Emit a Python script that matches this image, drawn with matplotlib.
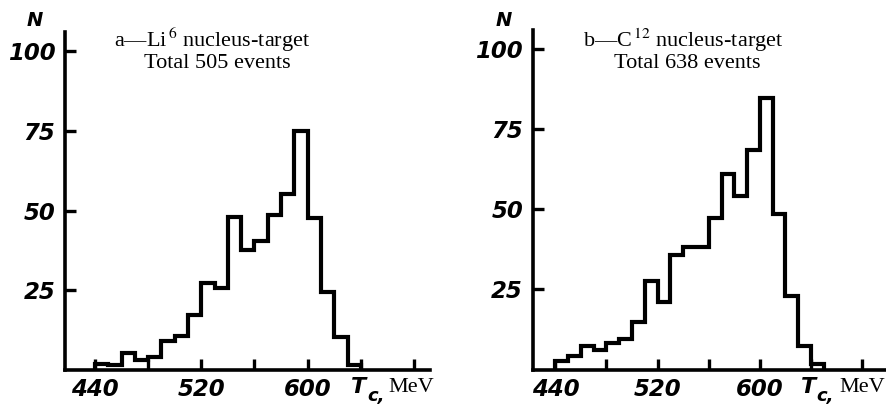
import matplotlib
matplotlib.use('Agg')
import matplotlib.pyplot as plt

# bin edges (MeV) and counts
edges_li = [440, 450, 460, 470, 480, 490, 500, 510, 520, 530, 540,
            550, 560, 570, 580, 590, 600, 610, 620, 630, 640]
counts_li = [2, 1.5, 5.4, 3.2, 4.1, 9.2, 10.8, 17.4, 27.4, 25.8, 47.9,
             37.7, 40.3, 48.7, 55.3, 75, 47.7, 24.4, 10.2, 1.5]

edges_c = [440, 450, 460, 470, 480, 490, 500, 510, 520, 530, 540,
           550, 560, 570, 580, 590, 600, 610, 620, 630, 640, 650]
counts_c = [2.8, 4.1, 7.2, 6.0, 8.3, 9.4, 14.9, 27.5, 21.2, 35.6, 38.3,
            38.3, 47.2, 61.1, 54.3, 68.6, 84.7, 48.7, 23.0, 7.4, 1.6]

yticks = [25, 50, 75, 100]
xticks = [440, 480, 520, 560, 600, 640, 680]
xticklabels = ['440', '', '520', '', '600', '', '']

W, H = 886, 404
fig = plt.figure(figsize=(W / 100, H / 100), dpi=100)


def px(x, y):
    return x / W, 1 - y / H


tick_font = dict(family='DejaVu Sans', weight='bold', style='italic', size=16.5)
serif = ['Liberation Serif', 'DejaVu Serif']
plt.rcParams['mathtext.fontset'] = 'stix'


def setup(ax, xlim):
    ax.set_xlim(*xlim)
    ax.set_ylim(0, 106)
    for s in ('top', 'right'):
        ax.spines[s].set_visible(False)
    for s in ('left', 'bottom'):
        ax.spines[s].set_linewidth(2.6)
    ax.set_yticks(yticks)
    ax.set_yticklabels([str(v) for v in yticks], fontdict=tick_font)
    ax.set_xticks(xticks)
    ax.set_xticklabels(xticklabels, fontdict=tick_font)
    ax.tick_params(direction='in', length=8, width=2.4)
    ax.tick_params(axis='y', pad=7)
    ax.tick_params(axis='x', pad=6)
    ax.patch.set_alpha(0)


ax1 = fig.add_axes([65 / W, 34 / H, 365 / W, 338 / H])
setup(ax1, (417.5, 692))
ax1.stairs(counts_li, edges_li, baseline=0, color='black', linewidth=3)

ax2 = fig.add_axes([532.7 / W, 34.5 / H, 353.3 / W, 339.5 / H])
setup(ax2, (422.3, 698.6))
ax2.stairs(counts_c, edges_c, baseline=0, color='black', linewidth=3)

# axis letters and titles
for (nx, tx, cx, mx, ha_m) in [(35, 359, 367, 388, 'left'), (504, 808, 816, 885, 'right')]:
    fig.text(*px(nx, 21), 'N', ha='center', va='center', fontsize=14,
             fontweight='bold', fontstyle='italic')
    fig.text(*px(tx, 387), 'T', ha='center', va='center', fontsize=16,
             fontweight='bold', fontstyle='italic')
    fig.text(*px(cx, 396), 'c,', ha='left', va='center', fontsize=13,
             fontweight='bold', fontstyle='italic')
    fig.text(*px(mx, 387), 'MeV', ha=ha_m, va='center', fontsize=16, family=serif)

fig.text(*px(212, 40), r'a—Li$^{\,6}$ nucleus-target', ha='center', va='center',
         fontsize=16, family=serif)
fig.text(*px(217, 63), 'Total 505 events', ha='center', va='center',
         fontsize=16, family=serif)
fig.text(*px(683, 40), r'b—C$^{\,12}$ nucleus-target', ha='center', va='center',
         fontsize=16, family=serif)
fig.text(*px(687, 63), 'Total 638 events', ha='center', va='center',
         fontsize=16, family=serif)

fig.savefig('out.png', dpi=100)
